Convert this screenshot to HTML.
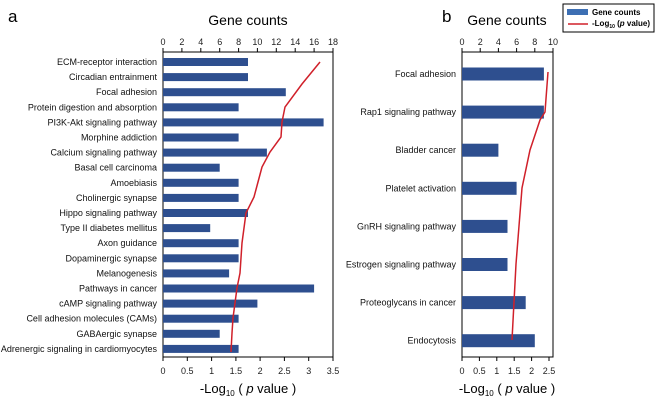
<!DOCTYPE html>
<html><head><meta charset="utf-8"><style>body{margin:0;background:#fff}svg{display:block;font-family:"Liberation Sans",Arial,sans-serif}</style></head><body>
<svg width="658" height="401" viewBox="0 0 658 401" xmlns="http://www.w3.org/2000/svg">
<text x="8" y="22" font-size="17">a</text>
<text x="442" y="22" font-size="17">b</text>
<!-- Left chart -->
<g id="L">
<text x="248" y="25" font-size="14" text-anchor="middle">Gene counts</text>
<g font-size="9" text-anchor="middle" fill="#222">
<text x="163" y="45">0</text><text x="181.9" y="45">2</text><text x="200.8" y="45">4</text><text x="219.7" y="45">6</text><text x="238.6" y="45">8</text><text x="257.4" y="45">10</text><text x="276.3" y="45">12</text><text x="295.2" y="45">14</text><text x="314.1" y="45">16</text><text x="333" y="45">18</text>
<text x="163" y="374">0</text><text x="187.3" y="374">0.5</text><text x="211.6" y="374">1</text><text x="235.9" y="374">1.5</text><text x="260.1" y="374">2</text><text x="284.4" y="374">2.5</text><text x="308.7" y="374">3</text><text x="333" y="374">3.5</text>
</g>
<text x="248" y="393" font-size="13" text-anchor="middle">-Log<tspan font-size="8" dy="3">10</tspan><tspan dy="-3"> ( </tspan><tspan font-style="italic">p</tspan> value )</text>
<g stroke="#000" stroke-width="1">
<rect x="163" y="52" width="170" height="305" fill="none"/>
<path d="M163 52v-4M181.9 52v-4M200.8 52v-4M219.7 52v-4M238.6 52v-4M257.4 52v-4M276.3 52v-4M295.2 52v-4M314.1 52v-4M333 52v-4"/>
<path d="M163 357v4M187.3 357v4M211.6 357v4M235.9 357v4M260.1 357v4M284.4 357v4M308.7 357v4M333 357v4"/>
</g>
<g fill="#2e4f8f">
<rect x="163" y="58" width="85" height="8"/><rect x="163" y="73.1" width="85" height="8"/><rect x="163" y="88.2" width="122.8" height="8"/><rect x="163" y="103.3" width="75.6" height="8"/><rect x="163" y="118.4" width="160.6" height="8"/><rect x="163" y="133.5" width="75.6" height="8"/><rect x="163" y="148.6" width="103.9" height="8"/><rect x="163" y="163.7" width="56.7" height="8"/><rect x="163" y="178.8" width="75.6" height="8"/><rect x="163" y="193.9" width="75.6" height="8"/><rect x="163" y="209" width="85" height="8"/><rect x="163" y="224.1" width="47.2" height="8"/><rect x="163" y="239.2" width="75.6" height="8"/><rect x="163" y="254.3" width="75.6" height="8"/><rect x="163" y="269.4" width="66.1" height="8"/><rect x="163" y="284.5" width="151.1" height="8"/><rect x="163" y="299.6" width="94.4" height="8"/><rect x="163" y="314.7" width="75.6" height="8"/><rect x="163" y="329.8" width="56.7" height="8"/><rect x="163" y="344.9" width="75.6" height="8"/>
</g>
<polyline fill="none" stroke="#d0202a" stroke-width="1.5" points="320,62 302,84 285,107 282,122 281,137 270,152 262,167 258,182 254,197 246,213 244,228 242,243 241,258 240,273 237,288 235,303 233,318 232,333 231,352"/>
<g font-size="9" text-anchor="end" fill="#111">
<text x="157" y="65">ECM-receptor interaction</text><text x="157" y="80.1">Circadian entrainment</text><text x="157" y="95.2">Focal adhesion</text><text x="157" y="110.3">Protein digestion and absorption</text><text x="157" y="125.4">PI3K-Akt signaling pathway</text><text x="157" y="140.5">Morphine addiction</text><text x="157" y="155.6">Calcium signaling pathway</text><text x="157" y="170.7">Basal cell carcinoma</text><text x="157" y="185.8">Amoebiasis</text><text x="157" y="200.9">Cholinergic synapse</text><text x="157" y="216">Hippo signaling pathway</text><text x="157" y="231.1">Type II diabetes mellitus</text><text x="157" y="246.2">Axon guidance</text><text x="157" y="261.3">Dopaminergic synapse</text><text x="157" y="276.4">Melanogenesis</text><text x="157" y="291.5">Pathways in cancer</text><text x="157" y="306.6">cAMP signaling pathway</text><text x="157" y="321.7">Cell adhesion molecules (CAMs)</text><text x="157" y="336.8">GABAergic synapse</text><text x="157" y="351.9">Adrenergic signaling in cardiomyocytes</text>
</g>
</g>
<!-- Right chart -->
<text x="507" y="25" font-size="14" text-anchor="middle">Gene counts</text>
<g font-size="9" text-anchor="middle" fill="#222">
<text x="462" y="45">0</text><text x="480.2" y="45">2</text><text x="498.4" y="45">4</text><text x="516.6" y="45">6</text><text x="534.8" y="45">8</text><text x="553" y="45">10</text>
<text x="462" y="374">0</text><text x="479.4" y="374">0.5</text><text x="496.8" y="374">1</text><text x="514.2" y="374">1.5</text><text x="531.6" y="374">2</text><text x="549" y="374">2.5</text>
</g>
<text x="507" y="393" font-size="13" text-anchor="middle">-Log<tspan font-size="8" dy="3">10</tspan><tspan dy="-3"> ( </tspan><tspan font-style="italic">p</tspan> value )</text>
<g stroke="#000" stroke-width="1">
<rect x="462" y="52" width="91" height="305" fill="none"/>
<path d="M462 52v-4M480.2 52v-4M498.4 52v-4M516.6 52v-4M534.8 52v-4M553 52v-4"/>
<path d="M462 357v4M479.4 357v4M496.8 357v4M514.2 357v4M531.6 357v4M549 357v4"/>
</g>
<g fill="#2e4f8f">
<rect x="462" y="67.5" width="81.9" height="13"/><rect x="462" y="105.6" width="81.9" height="13"/><rect x="462" y="143.7" width="36.4" height="13"/><rect x="462" y="181.8" width="54.6" height="13"/><rect x="462" y="219.9" width="45.5" height="13"/><rect x="462" y="258" width="45.5" height="13"/><rect x="462" y="296.1" width="63.7" height="13"/><rect x="462" y="334.2" width="72.8" height="13"/>
</g>
<polyline fill="none" stroke="#d0202a" stroke-width="1.5" points="548,72 545,112 540,120 530,150 522,188 519,226 516,264 514,302 512,340"/>
<g font-size="9" text-anchor="end" fill="#111">
<text x="456" y="77">Focal adhesion</text><text x="456" y="115.1">Rap1 signaling pathway</text><text x="456" y="153.2">Bladder cancer</text><text x="456" y="191.3">Platelet activation</text><text x="456" y="229.4">GnRH signaling pathway</text><text x="456" y="267.5">Estrogen signaling pathway</text><text x="456" y="305.6">Proteoglycans in cancer</text><text x="456" y="343.7">Endocytosis</text>
</g>
<!-- Legend -->
<rect x="563" y="4" width="91" height="28" fill="#fff" stroke="#000" stroke-width="1"/>
<rect x="567" y="9" width="21" height="6" fill="#3d6fb3"/>
<line x1="568" y1="24" x2="588" y2="24" stroke="#d0202a" stroke-width="1.5"/>
<text x="592" y="15" font-size="8" font-weight="bold">Gene counts</text>
<text x="592" y="26" font-size="8" font-weight="bold">-Log<tspan font-size="5" dy="2">10</tspan><tspan dy="-2"> (</tspan><tspan font-style="italic">p</tspan> value)</text>
</svg>
</body></html>
